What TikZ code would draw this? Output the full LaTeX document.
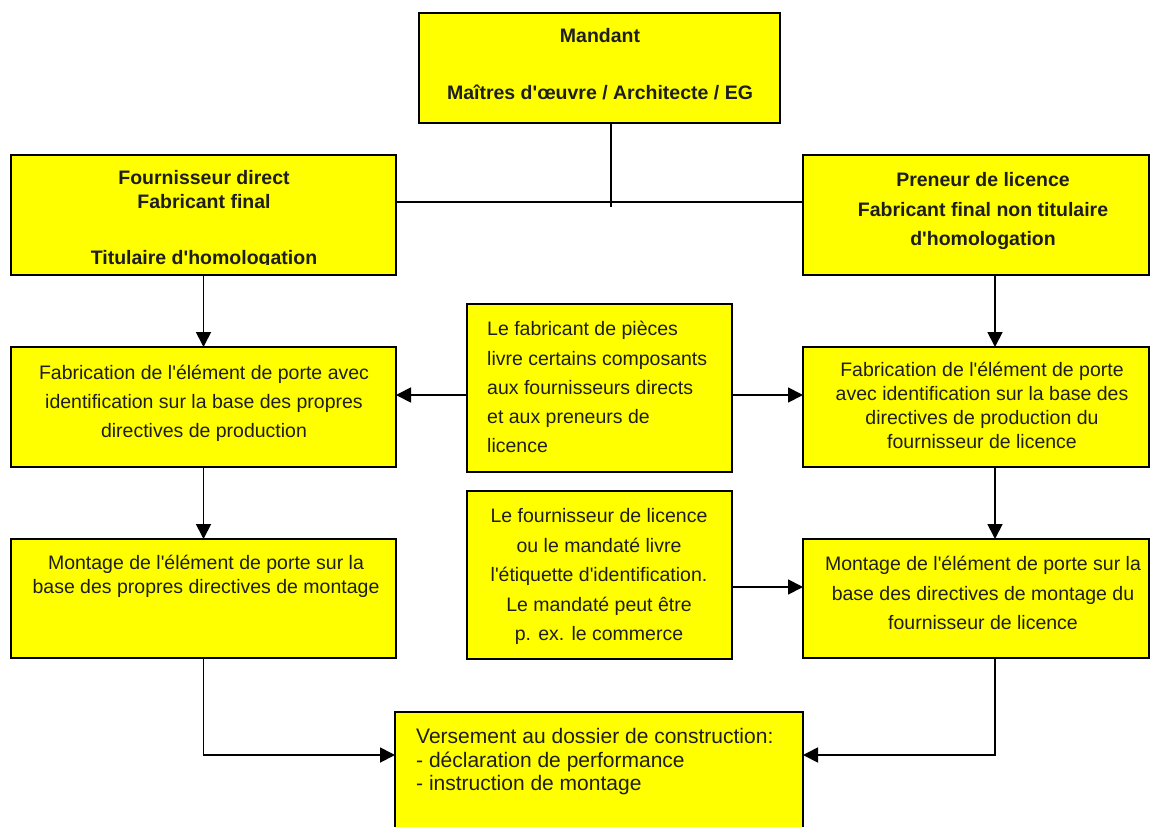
\documentclass[tikz,border=0pt]{standalone}
\usepackage{fontspec}
\setmainfont{Liberation Sans}[Ligatures=TeXOff]
\usetikzlibrary{arrows.meta,calc}
\definecolor{boxyellow}{HTML}{FFFF00}
\definecolor{txt}{HTML}{1E1E1E}
\begin{document}
\begin{tikzpicture}[x=1pt,y=-1pt,
  box/.style={draw=black, line width=1.6pt, fill=boxyellow, anchor=north west, inner sep=0pt, outer sep=0pt},
  conn/.style={line width=1.8pt, draw=black},
  arr/.style={conn, -{Triangle[length=15pt,width=15pt]}},
  lbl/.style={inner sep=0pt, text=txt, align=center, font=\fontsize{19.5}{24}\selectfont},
  lblwide/.style={lbl, font=\fontsize{19.5}{29.5}\selectfont},
  lblbold/.style={lbl, font=\fontsize{19.5}{24}\selectfont\bfseries},
  lblboldwide/.style={lbl, font=\fontsize{19.5}{29.5}\selectfont\bfseries}
]
\useasboundingbox (0,0) rectangle (1151,827);

% boxes
\node[box, minimum width=361pt, minimum height=110pt] (mandant) at (419,13) {};
\node[box, minimum width=385pt, minimum height=120pt] (f1) at (11,155) {};
\node[box, minimum width=346pt, minimum height=120pt] (p1) at (803,155) {};
\node[box, minimum width=385pt, minimum height=120pt] (f2) at (11,347) {};
\node[box, minimum width=346pt, minimum height=120pt] (p2) at (803,347) {};
\node[box, minimum width=265pt, minimum height=168pt] (m1) at (467,304) {};
\node[box, minimum width=265pt, minimum height=168pt] (m2) at (467,491) {};
\node[box, minimum width=385pt, minimum height=119pt] (f3) at (11,539) {};
\node[box, minimum width=346pt, minimum height=119pt] (p3) at (803,539) {};
\node[box, minimum width=408pt, minimum height=125pt] (dossier) at (395,712) {};

% texts
\node[lblbold] (mandantt) at (600,66.5) {\strut Mandant\\[33pt]Maîtres d'œuvre / Architecte / EG\strut};
\begin{scope}
  \clip (11,155) rectangle (396,264);
  \node[lblbold] (f1t) at (204,220) {\strut Fournisseur direct\\Fabricant final\\[32pt]Titulaire d'homologation\strut};
\end{scope}
\node[lblboldwide] (p1t) at (983,210.5) {\strut Preneur de licence\\Fabricant final non titulaire\\d'homologation\strut};
\node[lbl, font=\fontsize{19.5}{29}\selectfont] (f2t) at (204,403) {\strut Fabrication de l'élément de porte avec\\identification sur la base des propres\\directives de production\strut};
\node[lbl] (p2t) at (982,408) {\strut Fabrication de l'élément de porte\\avec identification sur la base des\\directives de production du\\fournisseur de licence\strut};
\node[lbl, align=left, anchor=west, font=\fontsize{19.5}{29.3}\selectfont] (m1t) at (487,388.5) {\strut Le fabricant de pièces\\livre certains composants\\aux fournisseurs directs\\et aux preneurs de\\licence\strut};
\node[lblwide] (m2t) at (599,576) {\strut Le fournisseur de licence\\ou le mandaté livre\\l'étiquette d'identification.\\Le mandaté peut être\\p. ex. le commerce\strut};
\node[lbl] (f3t) at (206,577) {\strut Montage de l'élément de porte sur la\\base des propres directives de montage\strut};
\node[lblwide] (p3t) at (983,594.5) {\strut Montage de l'élément de porte sur la\\base des directives de montage du\\fournisseur de licence\strut};
\node[lbl, align=left, anchor=west, font=\fontsize{21}{23.5}\selectfont] (dossiert) at (416,762.5) {\strut Versement au dossier de construction:\\- déclaration de performance\\- instruction de montage\strut};

% helper coordinates
\coordinate (tee) at (611,207);
\coordinate (hline) at (0,202);
\coordinate (xr) at (995,0);
\coordinate (ya) at (0,395);
\coordinate (yb) at (0,587);
\coordinate (yc) at (0,755);

% connectors
\draw[conn] (mandant.south -| tee) -- (tee);
\draw[conn] (f1.east |- hline) -- (p1.west |- hline);
\draw[arr] (f1.south) -- (f2.north);
\draw[arr] (f2.south) -- (f3.north);
\draw[arr] (p1.south -| xr) -- (p2.north -| xr);
\draw[arr] (p2.south -| xr) -- (p3.north -| xr);
\draw[arr] (m1.west |- ya) -- (f2.east |- ya);
\draw[arr] (m1.east |- ya) -- (p2.west |- ya);
\draw[arr] (m2.east |- yb) -- (p3.west |- yb);
\draw[arr] (f3.south) -- (f3.south |- yc) -- (dossier.west |- yc);
\draw[arr] (p3.south -| xr) -- (xr |- yc) -- (dossier.east |- yc);
\end{tikzpicture}
\end{document}
